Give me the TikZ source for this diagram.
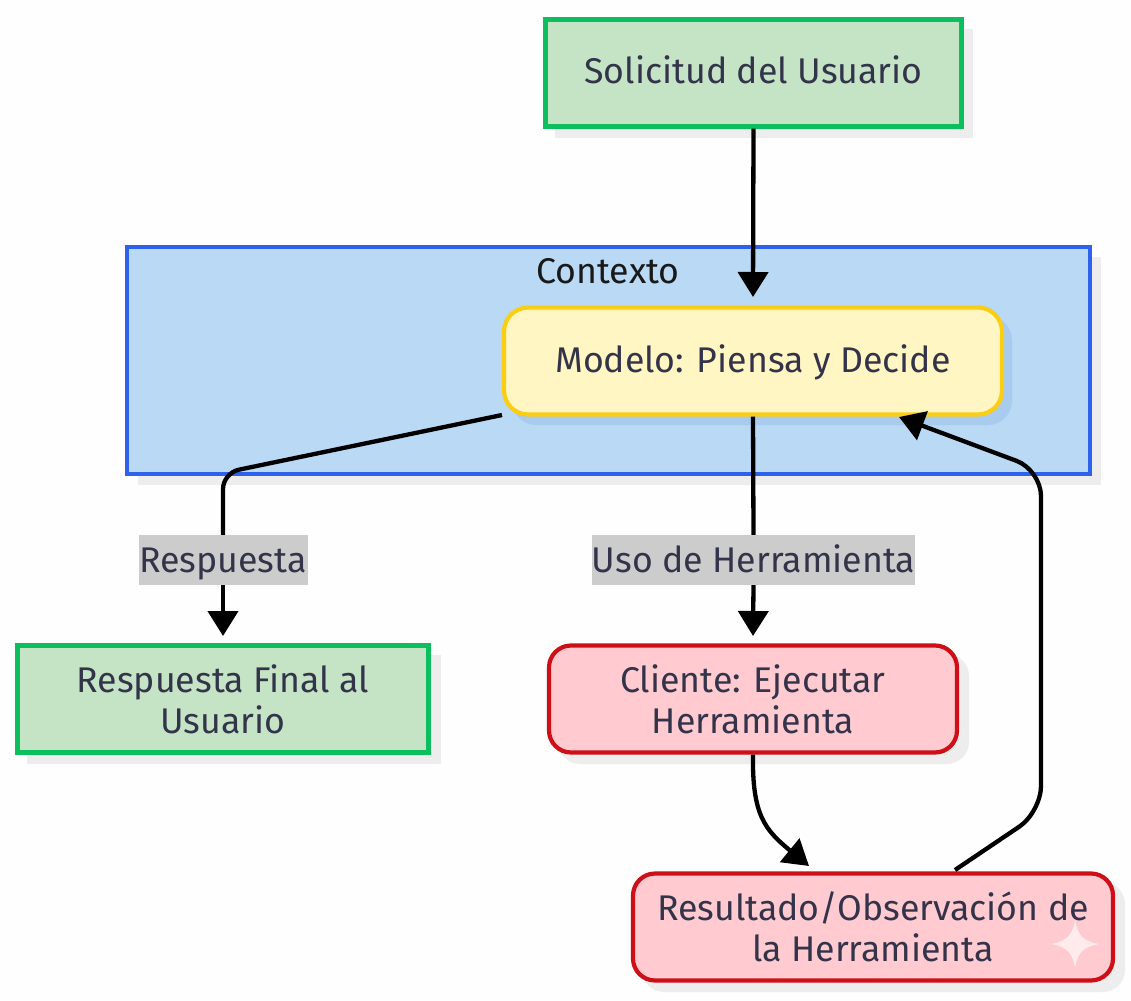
\documentclass[tikz,border=0pt]{standalone}
\usepackage{fontspec}
\setmainfont{Fira Sans}
\usetikzlibrary{arrows.meta,calc}
\definecolor{gfill}{HTML}{C5E4C6}
\definecolor{gline}{HTML}{0DBE5E}
\definecolor{bfill}{HTML}{B9D9F5}
\definecolor{bline}{HTML}{2E62EA}
\definecolor{yfill}{HTML}{FFF6C4}
\definecolor{yline}{HTML}{FBCD13}
\definecolor{rfill}{HTML}{FFCBD1}
\definecolor{rline}{HTML}{CF0F18}
\definecolor{txt}{HTML}{33334A}
\definecolor{shad}{HTML}{EDEDED}
\definecolor{mshad}{HTML}{A9CBEE}
\definecolor{lab}{HTML}{CCCCCC}
\tikzset{x=1pt,y=-1pt,
 fnt/.style={font=\fontsize{35.7}{41}\selectfont,text=txt,align=center},
 oneline/.style={text height=28pt,text depth=6pt},
 boxg/.style={draw=gline,fill=gfill,line width=4.2pt,fnt},
 boxr/.style={draw=rline,fill=rfill,line width=4.2pt,rounded corners=22pt,fnt},
 boxy/.style={draw=yline,fill=yfill,line width=4.2pt,rounded corners=24pt,fnt},
 conn/.style={line width=4.3pt,draw=black,rounded corners=16pt,-{Triangle[length=25pt,width=30pt]}},
 line/.style={line width=4.3pt,draw=black,rounded corners=16pt},
 lbl/.style={fill=lab,fnt,inner sep=0pt,minimum height=50pt,text height=30pt,text depth=6pt}}
\begin{document}
\begin{tikzpicture}
\useasboundingbox (0,0) rectangle (1131,1000);
\fill[white!99!gray] (0,0) rectangle (1131,1000);
% shadows
\fill[shad] (555,29) rectangle (973,138);
\fill[shad] (138,257) rectangle (1101,485);
\fill[shad] (27,655) rectangle (441,764);
\fill[shad,rounded corners=22pt] (558,654) rectangle (969,764);
\fill[shad,rounded corners=22pt] (642,882) rectangle (1125,992);
% container
\draw[draw=bline,fill=bfill,line width=4.2pt] (127,247) rectangle (1090,474);
\node[fnt,text=black!90] (ctx) at (608,271) {Contexto};
% nodes
\fill[mshad,rounded corners=24pt] (512,316) rectangle (1012,425);
\node[boxg,oneline,minimum width=416pt,minimum height=107pt] (sol) at (753.5,73) {Solicitud del Usuario};
\node[boxy,oneline,minimum width=498pt,minimum height=107pt] (mod) at (753,361) {Modelo: Piensa y Decide};
\node[boxg,minimum width=411pt,minimum height=107pt] (fin) at (223,699) {Respuesta Final al\\Usuario};
\node[boxr,minimum width=408pt,minimum height=107pt] (cli) at (753,699) {Cliente: Ejecutar\\Herramienta};
\node[boxr,minimum width=480pt,minimum height=107pt] (res) at (873,927) {Resultado/Observación de\\la Herramienta};
% connector anchors
\coordinate (a1) at (753,297);
\coordinate (a2) at (223,636);
\coordinate (a3) at (753,636);
\coordinate (s1) at (502,415);
\coordinate (r1) at (955,870);
\coordinate (m1) at (899,417);
\coordinate (c1) at (809,866);
% connectors
\draw[conn] (sol.south) -- (a1);
\node[lbl,minimum width=169pt] (l1) at (223,560) {Respuesta};
\draw[line] (s1) -- (223,473) -- (l1.north);
\draw[conn] (l1.south) -- (a2);
\node[lbl,minimum width=323pt] (l2) at (753.5,560) {Uso de Herramienta};
\draw[line] (mod.south) -- (l2.north);
\draw[conn] (l2.south) -- (a3);
\draw[conn,rounded corners=0pt] (cli.south) .. controls (752,815) and (765,830) .. (c1);
\draw[conn,rounded corners=26pt] (r1) -- (1041,812) -- (1041,470) -- (m1);
% sparkle mark
\fill[white,opacity=.6] (1075,920) .. controls (1078,936) and (1083,941) .. (1099,944) .. controls (1083,947) and (1078,952) .. (1075,968) .. controls (1072,952) and (1067,947) .. (1051,944) .. controls (1067,941) and (1072,936) .. (1075,920) -- cycle;
\end{tikzpicture}
\end{document}
